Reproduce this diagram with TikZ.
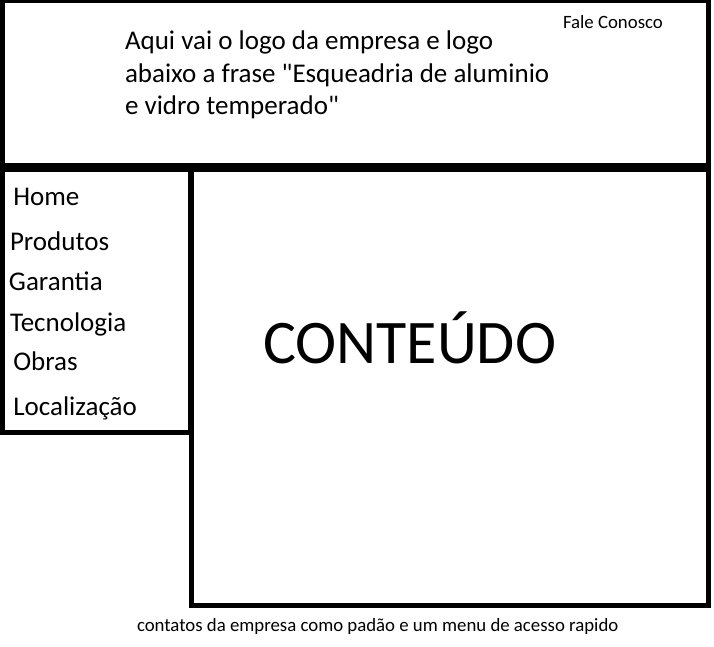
\documentclass[tikz,border=0pt]{standalone}
\usepackage{fontspec}
\setmainfont{Carlito}[Ligatures=TeXOff]
\begin{document}
\begin{tikzpicture}[x=1pt,y=-1pt,
  frame/.style={draw=black,line width=4.6pt,line join=miter},
  txt/.style={anchor=base west,inner sep=0pt,outer sep=0pt,align=left},
  big/.style={font=\fontsize{27}{32.5}\selectfont},
  small/.style={font=\fontsize{18.8}{22.7}\selectfont},
  huge/.style={font=\fontsize{62}{75}\selectfont}]
\useasboundingbox (0,0) rectangle (714,647);
% boxes
\draw[frame] (2.2,1.1) rectangle (708.5,165.6);
\draw[frame] (2.2,170.2) rectangle (190.6,432.5);
\draw[frame] (191.2,170.2) rectangle (708.5,605.2);
% header texts
\node[txt,big] (l1) at (125,50) {Aqui vai o logo da empresa e logo};
\node[txt,big] (l2) at (125,82.5) {abaixo a frase "Esqueadria de aluminio};
\node[txt,big] (l3) at (125,115) {e vidro temperado"};
\node[txt,small] (fale) at (563,28.5) {Fale Conosco};
% menu
\node[txt,big] (home) at (13.3,205.5) {Home};
\node[txt,big] (prod) at (10,250.5) {Produtos};
\node[txt,big] (gar) at (9,290.5) {Garantia};
\node[txt,big] (tec) at (10,331) {Tecnologia};
\node[txt,big] (obr) at (13.3,370.5) {Obras};
\node[txt,big] (loc) at (13.3,415) {Localização};
% content
\node[txt,huge] (cont) at (263,363.5) {CONTEÚDO};
% footer
\node[txt,small] (foot) at (137,631) {contatos da empresa como padão e um menu de acesso rapido};
\end{tikzpicture}
\end{document}
